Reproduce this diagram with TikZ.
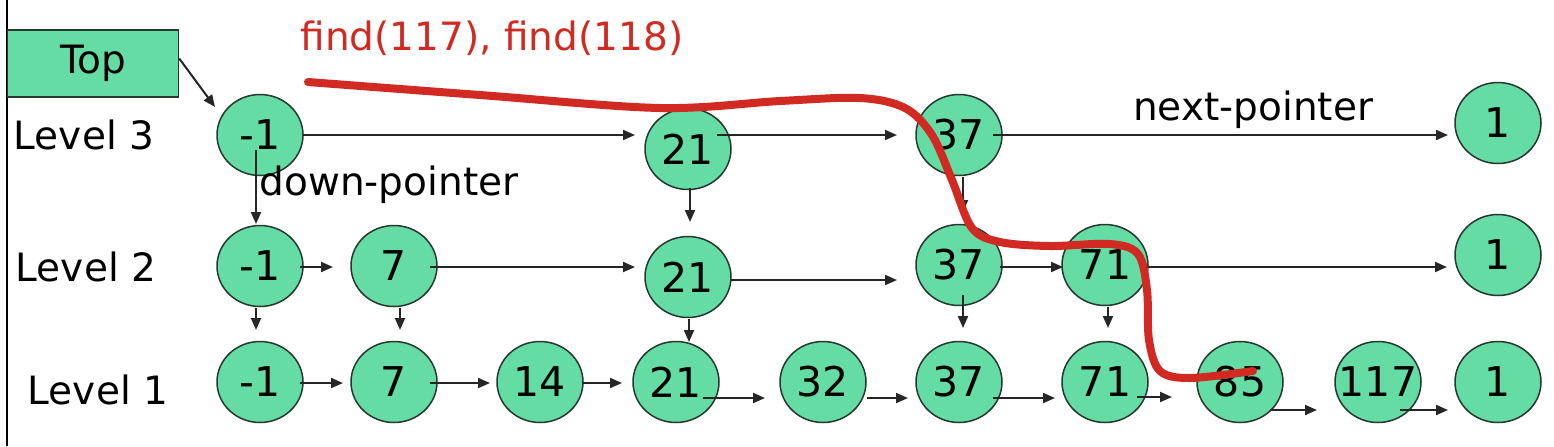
\documentclass[tikz,border=0pt]{standalone}
\usepackage{fontspec}
\setmainfont{DejaVu Sans}
\usetikzlibrary{shapes.geometric,arrows.meta,calc}
\definecolor{nodegreen}{HTML}{64DCA4}
\definecolor{nodeedge}{HTML}{27382F}
\definecolor{pathred}{HTML}{D02A22}
\newcommand\nv[1]{\makebox[0pt][c]{#1}}
\tikzset{
  skipnode/.style={ellipse,draw=nodeedge,line width=0.75pt,fill=nodegreen,minimum width=43pt,minimum height=40.5pt,inner sep=0pt,font=\fontsize{20.5}{22}\selectfont},
  topbox/.style={rectangle,draw=nodeedge,line width=0.75pt,fill=nodegreen,minimum width=85.5pt,minimum height=33.5pt,inner sep=0pt,font=\fontsize{19.5}{22}\selectfont},
  lbl/.style={inner sep=0pt,font=\fontsize{19.5}{22}\selectfont},
  arr/.style={draw=black!85,line width=1pt,-{Triangle[length=6pt,width=5pt]}},
  searchpath/.style={draw=pathred,line width=4pt,line cap=round,line join=round}
}
\begin{document}
\begin{tikzpicture}[x=0.5pt,y=-0.5pt]
\useasboundingbox (0,0) rectangle (1554,446);
\fill[white] (0,0) rectangle (1554,446);
\draw[line width=1pt] (7,0) -- (7,446);

% level 3
\node[skipnode] (n3a) at (260,135) {\nv{-1}};
\node[skipnode] (n3b) at (688,149) {\nv{21}};
\node[skipnode] (n3c) at (959,135) {\nv{37}};
\node[skipnode] (n3d) at (1498,123) {\nv{1}};
% level 2
\node[skipnode] (n2a) at (260,266) {\nv{-1}};
\node[skipnode] (n2b) at (394,266) {\nv{7}};
\node[skipnode] (n2c) at (688,277) {\nv{21}};
\node[skipnode] (n2d) at (959,265) {\nv{37}};
\node[skipnode] (n2e) at (1105,265) {\nv{71}};
\node[skipnode] (n2f) at (1498,255) {\nv{1}};
% level 1
\node[skipnode] (n1a) at (260,382) {\nv{-1}};
\node[skipnode] (n1b) at (394,382) {\nv{7}};
\node[skipnode] (n1c) at (540,382) {\nv{14}};
\node[skipnode] (n1d) at (676,382) {\nv{21}};
\node[skipnode] (n1e) at (823,382) {\nv{32}};
\node[skipnode] (n1f) at (959,382) {\nv{37}};
\node[skipnode] (n1g) at (1105,382) {\nv{71}};
\node[skipnode] (n1h) at (1240,382) {\nv{85}};
\node[skipnode] (n1i) at (1378,382) {\nv{117}};
\node[skipnode] (n1j) at (1498,382) {\nv{1}};

\node[topbox] (top) at (93,63.5) {Top};

\node[lbl] (lv3) at (84,135) {Level 3};
\node[lbl] (lv2) at (86,267) {Level 2};
\node[lbl] (lv1) at (98,390) {Level 1};
\node[lbl] (down) at (389,185) {down-pointer};
\node[lbl] (next) at (1253,110) {next-pointer};
\node[lbl,text=pathred] (find) at (492,38) {find(117), find(118)};

% top pointer
\draw[arr] ($(top.east)+(0,-5)$) -- ($(n3a)+(-45,-28)$);

% level 3 next pointers
\draw[arr] ($(n3a)+(43,0)$) -- ($(n3b)+(-53,-14)$);
\draw[arr] ($(n3b)+(29,-14)$) -- ($(n3c)+(-62,0)$);
\draw[arr] ($(n3c)+(34,0)$) -- ($(n3d)+(-50,12)$);
% level 2 next pointers
\draw[arr] ($(n2a)+(40,1)$) -- ($(n2b)+(-61,1)$);
\draw[arr] ($(n2b)+(36,1)$) -- ($(n2c)+(-53,-10)$);
\draw[arr] ($(n2c)+(43,3)$) -- ($(n2d)+(-62,15)$);
\draw[arr] ($(n2d)+(41,2)$) -- ($(n2e)+(-42,2)$);
\draw[arr] ($(n2e)+(43,2)$) -- ($(n2f)+(-51,12)$);
% level 1 next pointers
\draw[arr] ($(n1a)+(40,1)$) -- ($(n1b)+(-51,1)$);
\draw[arr] ($(n1b)+(36,1)$) -- ($(n1c)+(-50,1)$);
\draw[arr] ($(n1c)+(43,1)$) -- ($(n1d)+(-54,1)$);
\draw[arr] ($(n1d)+(27,16)$) -- ($(n1e)+(-58,16)$);
\draw[arr] ($(n1e)+(44,16)$) -- ($(n1f)+(-51,16)$);
\draw[arr] ($(n1f)+(34,16)$) -- ($(n1g)+(-50,16)$);
\draw[arr] ($(n1g)+(32,15)$) -- ($(n1h)+(-68,15)$);
\draw[arr] ($(n1h)+(30,28)$) -- ($(n1i)+(-61,28)$);
\draw[arr] ($(n1i)+(22,28)$) -- ($(n1j)+(-50,28)$);
% down pointers
\draw[arr] ($(n3a)+(-4,15)$) -- ($(n2a)+(-4,-42)$);
\draw[arr] ($(n3b)+(2,39)$) -- ($(n2c)+(2,-55)$);
\draw[arr] ($(n3c)+(4,42)$) -- ($(n2d)+(4,-53)$);
\draw[arr] ($(n2a)+(-4,42)$) -- ($(n1a)+(-4,-52)$);
\draw[arr] ($(n2b)+(6,42)$) -- ($(n1b)+(6,-52)$);
\draw[arr] ($(n2c)+(1,42)$) -- ($(n1d)+(13,-40)$);
\draw[arr] ($(n2d)+(4,30)$) -- ($(n1f)+(4,-54)$);
\draw[arr] ($(n2e)+(3,42)$) -- ($(n1g)+(3,-54)$);

% search path
\draw[searchpath] plot[smooth,tension=0.55] coordinates {
 (308,82) (480,95) (660,108) (780,101) (860,98) (905,108) (932,135)
 (952,180) (972,228) (1000,242) (1050,246) (1110,244) (1138,254)
 (1147,290) (1149,340) (1160,371) (1190,378) (1253,371)};
\end{tikzpicture}
\end{document}
